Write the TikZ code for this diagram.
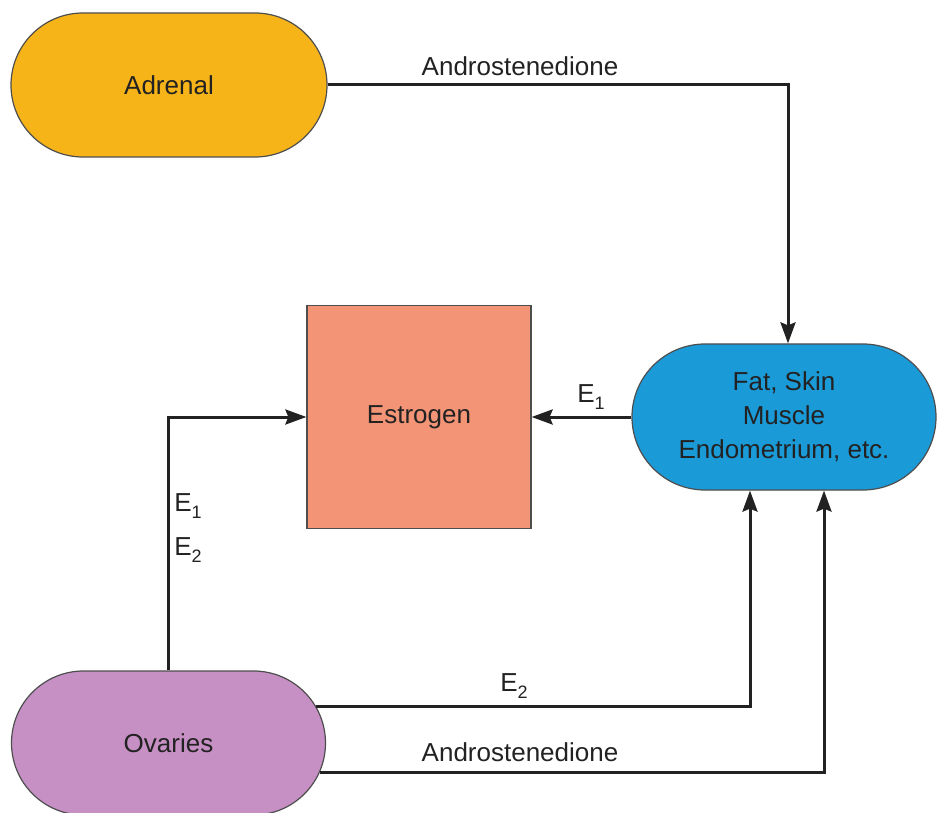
\documentclass[tikz,border=0pt]{standalone}
\usepackage{fontspec}
\setmainfont{Liberation Sans}
\usetikzlibrary{shapes.misc,arrows.meta,calc}
\definecolor{adrc}{HTML}{F6B418}
\definecolor{estc}{HTML}{F39476}
\definecolor{fatc}{HTML}{1B9AD8}
\definecolor{ovc}{HTML}{C690C5}
\definecolor{inkc}{HTML}{222222}
\newcommand\lowsub[1]{\raisebox{-0.45ex}{\fontsize{18}{18}\selectfont #1}}
\tikzset{
  x=1pt,y=-1pt,
  stad/.style={rounded rectangle, draw=inkc!80, line width=1.2pt, text=inkc,
    font=\fontsize{26}{34}\selectfont, align=center, inner sep=0pt},
  sq/.style={rectangle, draw=inkc!80, line width=1.2pt, text=inkc,
    font=\fontsize{26}{34}\selectfont, inner sep=0pt},
  conn/.style={draw=inkc, line width=3pt},
  arr/.style={conn, -{Stealth[length=21pt,width=15pt,inset=3pt]}},
  lab/.style={text=inkc, font=\fontsize{26}{30}\selectfont, inner sep=0pt},
}
\begin{document}
\begin{tikzpicture}
\useasboundingbox (0,0) rectangle (938,813);
\node[stad, fill=adrc, minimum width=316pt, minimum height=144pt] (adr) at (169,85) {Adrenal};
\node[sq, fill=estc, minimum width=224pt, minimum height=223pt] (est) at (419,417) {Estrogen};
\node[stad, fill=fatc, minimum width=304pt, minimum height=146pt] (fat) at (784,417) {Fat, Skin\\Muscle\\Endometrium, etc.};
\node[stad, fill=ovc, minimum width=314pt, minimum height=144pt] (ov) at (168.5,743) {Ovaries};
\coordinate (fattop) at ($(fat.north)+(4,0)$);
\coordinate (fatbl) at ($(fat.south)+(-34,0)$);
\coordinate (fatbr) at ($(fat.south)+(40,0)$);
\draw[arr] (adr.east) -| (fattop);
\draw[arr] (fat.west) -- (est.east);
\draw[arr] (ov.north) |- (est.west);
\draw[arr] (ov.14) -| (fatbl);
\draw[arr] (ov.-11) -| (fatbr);
\node[lab] (l1) at (520,66) {Androstenedione};
\node[lab] (l2) at (591,397) {E\lowsub{1}};
\node[lab] (l3) at (188,506) {E\lowsub{1}};
\node[lab] (l4) at (188,550) {E\lowsub{2}};
\node[lab] (l5) at (514,686) {E\lowsub{2}};
\node[lab] (l6) at (520,752) {Androstenedione};
\end{tikzpicture}
\end{document}
